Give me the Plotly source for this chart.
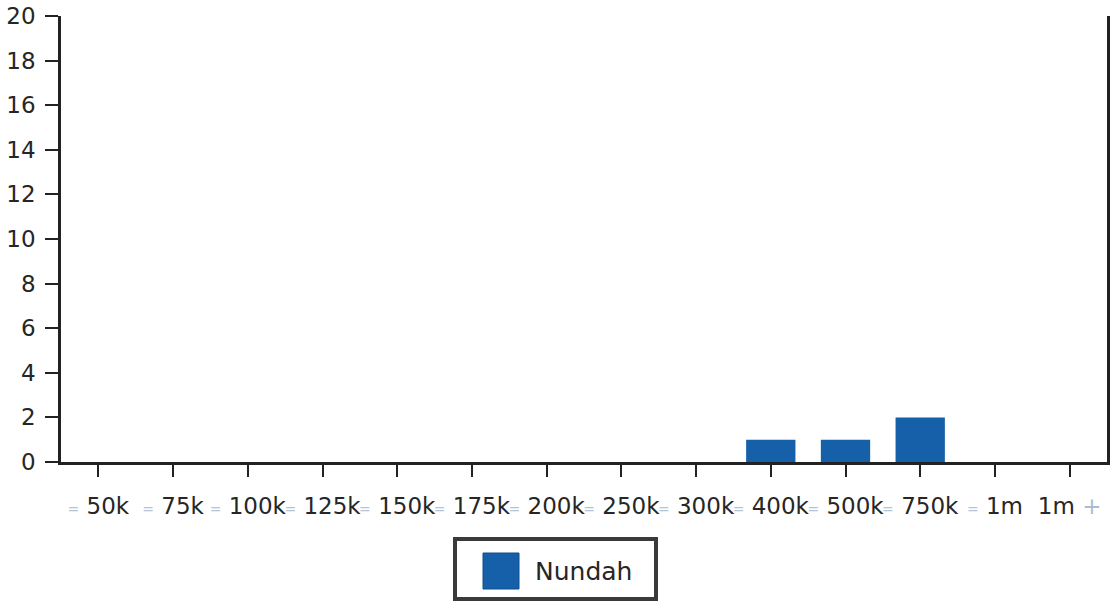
import plotly.graph_objects as go

# ---- data ----
categories = ["50k", "75k", "100k", "125k", "150k", "175k", "200k",
              "250k", "300k", "400k", "500k", "750k", "1m", "1m +"]
prefixes = ["<"] * 13 + [""]
values = [0, 0, 0, 0, 0, 0, 0, 0, 0, 1, 1, 2, 0, 0]
series_name = "Nundah"
y_ticks = list(range(0, 21, 2))

BAR = "#1560a8"
AXIS = "#222222"
TXT = "#262626"
FONT = "DejaVu Sans"

W, H = 1110, 606
PLOT_L, PLOT_R, PLOT_T, PLOT_B = 61, 1107, 16, 462   # pixels
ML = PLOT_L
MR = W - PLOT_R
MT = PLOT_T
MB = H - PLOT_B

ticktext = []
for p, c in zip(prefixes, categories):
    if c.endswith("+"):
        base = c[:-1].rstrip()
        ticktext.append(base + " <span style='color:#a9bcd0'>+</span>")
    elif p:
        ticktext.append("<span style='color:#b4c4d4;font-size:14px'>=</span> " + c)
    else:
        ticktext.append(c)

fig = go.Figure()
fig.add_trace(go.Bar(
    x=list(range(len(categories))), y=values, name=series_name,
    marker=dict(color=BAR, line=dict(width=0)),
    showlegend=False,
))

fig.update_layout(
    width=W, height=H,
    margin=dict(l=ML, r=MR, t=MT, b=MB, autoexpand=False),
    paper_bgcolor="white", plot_bgcolor="white",
    bargap=0.34,
    font=dict(family=FONT, color=TXT),
)
fig.update_xaxes(
    range=[-0.5, len(categories) - 0.5],
    tickmode="array", tickvals=list(range(len(categories))), ticktext=ticktext,
    tickangle=0, automargin=False, ticklabeloverflow="allow",
    ticks="outside", ticklen=12, tickwidth=2, tickcolor=AXIS,
    showline=True, linecolor=AXIS, linewidth=2.5,
    showgrid=False, zeroline=False,
    tickfont=dict(size=23, color=TXT, family=FONT),
    ticklabelstandoff=10,
)
fig.update_yaxes(
    range=[0, 20], tickmode="array", tickvals=y_ticks, automargin=False,
    ticks="outside", ticklen=13, tickwidth=2, tickcolor=AXIS,
    showline=True, linecolor=AXIS, linewidth=2.5, mirror=True,
    showgrid=False, zeroline=False,
    tickfont=dict(size=23, color=TXT, family=FONT),
    ticklabelstandoff=5,
)

# ---- legend drawn as a framed box (pixel positions converted to paper) ----
pw = W - ML - MR
ph = H - MT - MB
def px(x):
    return (x - PLOT_L) / pw
def py(y):
    return (PLOT_B - y) / ph

fig.add_shape(type="rect", xref="paper", yref="paper",
              x0=px(455), x1=px(656), y0=py(539), y1=py(599),
              line=dict(color="#3a3a3a", width=4), fillcolor="white")
fig.add_shape(type="rect", xref="paper", yref="paper",
              x0=px(483), x1=px(519), y0=py(553), y1=py(589),
              line=dict(color="#0e4f8f", width=1), fillcolor=BAR)
fig.add_annotation(xref="paper", yref="paper", x=px(533), y=py(571),
                   xanchor="left", yanchor="middle", showarrow=False,
                   text=series_name, font=dict(size=25, color=TXT, family=FONT))

fig.write_html("out.html", config={"displayModeBar": False},
               post_script="document.body.style.margin='0';document.body.style.overflow='hidden';")
